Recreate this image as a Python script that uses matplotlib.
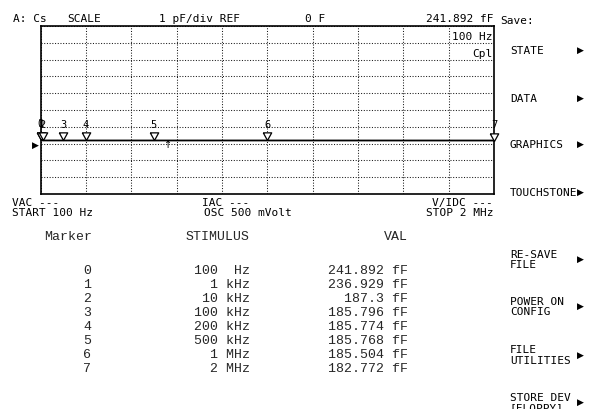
import matplotlib
matplotlib.use("Agg")
import matplotlib.pyplot as plt
import numpy as np

# ---- data ----
marker_ids = [0, 1, 2, 3, 4, 5, 6, 7]
stimulus_hz = [100, 1e3, 10e3, 100e3, 200e3, 500e3, 1e6, 2e6]
stimulus_num = ["100", "1", "10", "100", "200", "500", "1", "2"]
stimulus_unit = ["Hz", "kHz", "kHz", "kHz", "kHz", "kHz", "MHz", "MHz"]
values_fF = [241.892, 236.929, 187.3, 185.796, 185.774, 185.768, 185.504, 182.772]
values_txt = ["241.892", "236.929", "187.3", "185.796", "185.774", "185.768", "185.504", "182.772"]
start_hz, stop_hz = 100, 2e6
scale_pF_per_div = 1.0
ref_pF = 0.0
ref_div_from_bottom = 3

menu_items = ["STATE", "DATA", "GRAPHICS", "TOUCHSTONE", "RE-SAVE\nFILE",
              "POWER ON\nCONFIG", "FILE\nUTILITIES", "STORE DEV\n[FLOPPY]"]

W, H = 595, 410
fig = plt.figure(figsize=(W / 100, H / 100), dpi=100)
fig.patch.set_facecolor("white")

def fx(x):
    return x / W

def fy(y):
    return 1 - y / H

MONO = "DejaVu Sans Mono"
TMONO = "Liberation Mono"

# ---- plot area ----
L, R, T, B = 40.5, 494, 27, 195
ax = fig.add_axes([fx(L), fy(B), fx(R) - fx(L), fy(T) - fy(B)])
values_pF = np.array(values_fF) / 1000.0
ylo = ref_pF - ref_div_from_bottom * scale_pF_per_div
yhi = ylo + 10 * scale_pF_per_div
ax.set_xlim(start_hz, stop_hz)
ax.set_ylim(ylo, yhi)
ax.set_xticks(np.linspace(start_hz, stop_hz, 11))
ax.set_yticks(np.linspace(ylo, yhi, 11))
ax.tick_params(length=0, labelbottom=False, labelleft=False)
ax.grid(True, color="#1a1a1a", linestyle=(0, (1, 1.6)), linewidth=0.75)
for s in ax.spines.values():
    s.set_linewidth(1.2)
    s.set_color("black")

ax.plot(stimulus_hz, values_pF, color="black", linewidth=1.3, zorder=3)

# marker triangles with tip on the trace
tri = [(-0.55, 1.0), (0.55, 1.0), (0.0, 0.0), (-0.55, 1.0)]
ax.plot(stimulus_hz, values_pF, linestyle="none", marker=tri, markersize=11,
        markerfacecolor="white", markeredgecolor="black", markeredgewidth=0.9,
        zorder=4, clip_on=False)
for mid, f, v in zip(marker_ids, stimulus_hz, values_pF):
    ax.annotate(str(mid), xy=(f, v), xytext=(0, 12), textcoords="offset points",
                ha="center", va="center", fontsize=7.5, family=MONO, zorder=5,
                annotation_clip=False)

# reference level indicator
ax.annotate("\u25B6", xy=(0, ref_pF), xycoords=("axes fraction", "data"),
            xytext=(-4, -0.5), textcoords="offset points", ha="center", va="center",
            fontsize=6.5, family="DejaVu Sans", annotation_clip=False)
fig.text(fx(168.5), fy(145), "\u2191", ha="center", va="center", fontsize=7,
         family="DejaVu Sans")

# text inside plot
fig.text(fx(492.5), fy(39.5), "100 Hz", ha="right", va="baseline", fontsize=8, family=MONO)
fig.text(fx(492.5), fy(57), "Cpl", ha="right", va="baseline", fontsize=8, family=MONO)

# ---- header line ----
hb = 21.5
fig.text(fx(13), fy(hb), "A: Cs", fontsize=8, family=MONO, va="baseline")
fig.text(fx(67), fy(hb), "SCALE", fontsize=8, family=MONO, va="baseline")
fig.text(fx(159), fy(hb), "1 pF/div REF", fontsize=8, family=MONO, va="baseline")
fig.text(fx(305), fy(hb), "0 F", fontsize=8, family=MONO, va="baseline")
fig.text(fx(493), fy(hb), f"{values_txt[0]} fF", fontsize=8, family=MONO,
         va="baseline", ha="right")

# ---- footer of plot ----
fig.text(fx(12), fy(206), "VAC ---", fontsize=8, family=MONO, va="baseline")
fig.text(fx(12), fy(216.5), f"START {stimulus_num[0]} {stimulus_unit[0]}", fontsize=8,
         family=MONO, va="baseline")
fig.text(fx(202), fy(206), "IAC ---", fontsize=8, family=MONO, va="baseline")
fig.text(fx(204), fy(216.5), "OSC 500 mVolt", fontsize=8, family=MONO, va="baseline")
fig.text(fx(493), fy(206), "V/IDC ---", fontsize=8, family=MONO, va="baseline", ha="right")
fig.text(fx(493), fy(216.5), f"STOP {stimulus_num[-1]} {stimulus_unit[-1]}", fontsize=8,
         family=MONO, va="baseline", ha="right")

# ---- marker table ----
tcol = "#262626"
TFS = 9.5
fig.text(fx(92), fy(240), "Marker", fontsize=TFS, family=TMONO, va="baseline",
         ha="right", color=tcol)
fig.text(fx(250), fy(240), "STIMULUS", fontsize=TFS, family=TMONO, va="baseline",
         ha="right", color=tcol)
fig.text(fx(408), fy(240), "VAL", fontsize=TFS, family=TMONO, va="baseline",
         ha="right", color=tcol)
for i, (mid, n, u, vt) in enumerate(zip(marker_ids, stimulus_num, stimulus_unit, values_txt)):
    yb = 273.7 + 14.1 * i
    fig.text(fx(91), fy(yb), str(mid), fontsize=TFS, family=TMONO, va="baseline",
             ha="right", color=tcol)
    fig.text(fx(250), fy(yb), f"{n} {u:>3}", fontsize=TFS, family=TMONO, va="baseline",
             ha="right", color=tcol)
    fig.text(fx(408), fy(yb), f"{vt} fF", fontsize=TFS, family=TMONO, va="baseline",
             ha="right", color=tcol)

# ---- softkey menu ----
fig.text(fx(500), fy(24), "Save:", fontsize=8, family=MONO, va="baseline")
menu_base = [54, 102, 148, 196, 258, 305, 353.5, 401]
for item, yb in zip(menu_items, menu_base):
    lines = item.split("\n")
    for k, ln in enumerate(lines):
        fig.text(fx(510), fy(yb + 10.5 * k), ln, fontsize=8, family=MONO, va="baseline")
    ymid = yb - 3.5 + 10.5 * (len(lines) - 1) / 2
    fig.text(fx(580), fy(ymid), "\u25B6", fontsize=6.5, family="DejaVu Sans",
             ha="center", va="center")

fig.savefig("out.png", dpi=100)
